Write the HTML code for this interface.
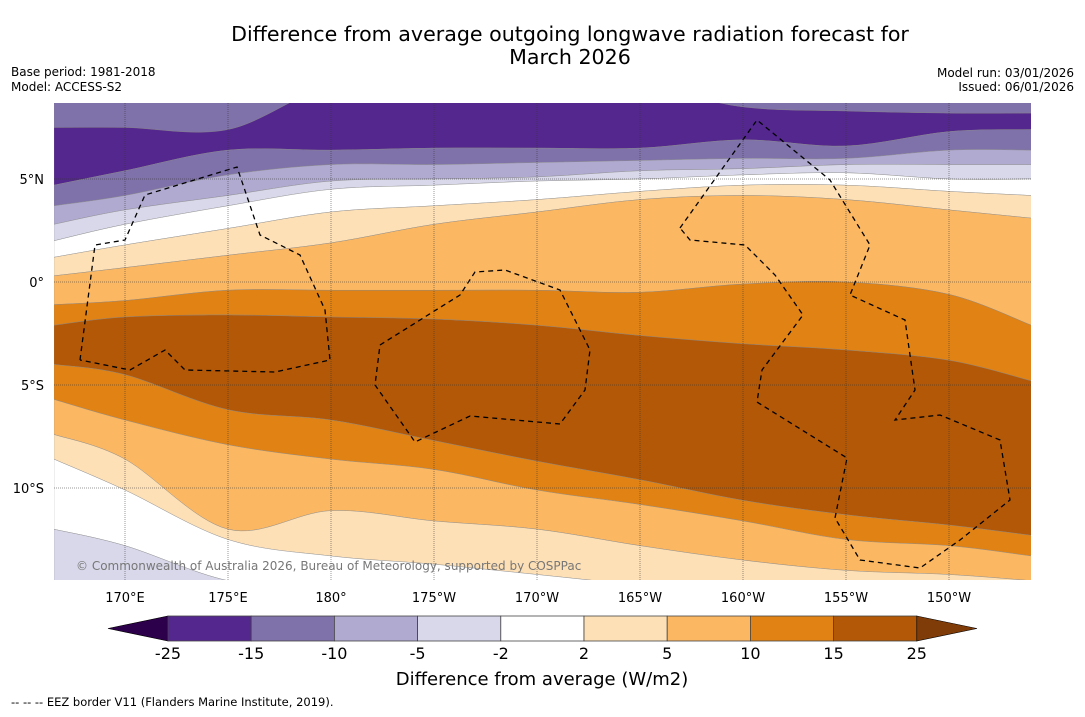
<!DOCTYPE html>
<html><head><meta charset="utf-8"><style>
body{margin:0;background:#fff;width:1085px;height:713px;overflow:hidden;font-family:"DejaVu Sans","Liberation Sans",sans-serif}
</style></head><body>
<svg id="chart" width="1085" height="713" xmlns="http://www.w3.org/2000/svg" font-family="DejaVu Sans, Liberation Sans, sans-serif">
<text x="570" y="41" font-size="20.6" text-anchor="middle">Difference from average outgoing longwave radiation forecast for</text>
<text x="570" y="64" font-size="20.6" text-anchor="middle">March 2026</text>
<text x="11" y="76" font-size="12">Base period: 1981-2018</text>
<text x="11" y="91" font-size="12">Model: ACCESS-S2</text>
<text x="1074" y="77" font-size="12" text-anchor="end">Model run: 03/01/2026</text>
<text x="1074" y="91" font-size="12" text-anchor="end">Issued: 06/01/2026</text>
<defs><clipPath id="mapclip"><rect x="54" y="103" width="977" height="477"/></clipPath></defs>
<g id="map" clip-path="url(#mapclip)"></g>
<g id="axes"></g>
<g id="cbar"></g>
<text x="542" y="685" font-size="18" text-anchor="middle">Difference from average (W/m2)</text>
<text x="11" y="706" font-size="11.5">--  --  -- EEZ border V11 (Flanders Marine Institute, 2019).</text>
</svg>
<script>
// longitudes (degrees east) at which contour boundaries are sampled
const lons = [166.55,170,175,180,185,190,195,200,205,210,214];
// contour boundary latitudes, north to south
const bZ = [7.5,7.5,7.4,9.5,9.5,9.5,9.5,8.5,8.3,8.2,8.2];
const bA = [4.7,5.4,6.4,6.4,6.5,6.5,6.5,6.9,6.6,7.3,7.4];
const bB = [3.7,4.2,5.2,5.7,5.7,5.8,5.9,6.0,6.0,6.4,6.4];
const bC = [2.8,3.5,4.2,4.9,5.0,5.1,5.4,5.5,5.7,5.7,5.7];
const bD = [2.0,2.8,3.7,4.5,4.7,4.9,5.0,5.2,5.3,5.0,5.0];
const bE = [1.2,1.8,2.6,3.4,3.7,4.0,4.4,4.7,4.7,4.4,4.2];
const bF = [0.3,0.7,1.3,1.9,2.8,3.4,4.0,4.2,4.0,3.5,3.1];
const bG = [-1.1,-0.9,-0.4,-0.4,-0.4,-0.4,-0.5,-0.1,0,-0.6,-2.1];
const bH = [-2.1,-1.7,-1.6,-1.7,-1.8,-2.1,-2.6,-3.0,-3.3,-3.8,-4.8];
const bI = [-4.0,-4.5,-6.2,-6.7,-7.7,-8.7,-9.6,-10.6,-11.3,-11.8,-12.3];
const bJ = [-5.7,-6.7,-7.9,-8.6,-9.1,-10.1,-10.8,-11.6,-12.5,-12.8,-13.3];
const bK = [-7.4,-8.6,-12.0,-11.1,-11.6,-12.0,-12.8,-13.5,-14.0,-14.2,-14.5];
const bL = [-8.6,-10.1,-12.5,-13.3,-13.7,-14.2,-14.7,-15,-15,-15,-15];
const bM = [-12.0,-12.8,-14.5,-15,-15,-15,-15,-15,-15,-15,-15];
const bTop = lons.map(()=>9.6), bBot = lons.map(()=>-15.5);
const levels = ['-25','-15','-10','-5','-2','2','5','10','15','25'];
const xTickLons = [170,175,180,185,190,195,200,205,210];
const xTickLabels = ['170°E','175°E','180°','175°W','170°W','165°W','160°W','155°W','150°W'];
const yTickLats = [5,0,-5,-10];
const yTickLabels = ['5°N','0°','5°S','10°S'];

const NS='http://www.w3.org/2000/svg';
const X = lon => 125 + (lon-170)*20.6;
const Y = lat => 282 - lat*20.6;
function mk(tag, attrs, parent){const e=document.createElementNS(NS,tag);for(const k in attrs)e.setAttribute(k,attrs[k]);parent.appendChild(e);return e;}
function smooth(pts){ // catmull-rom segments, excluding initial move
  let d='';
  for(let i=0;i<pts.length-1;i++){
    const p0=pts[Math.max(0,i-1)],p1=pts[i],p2=pts[i+1],p3=pts[Math.min(pts.length-1,i+2)];
    const c1=[p1[0]+(p2[0]-p0[0])/6,p1[1]+(p2[1]-p0[1])/6];
    const c2=[p2[0]-(p3[0]-p1[0])/6,p2[1]-(p3[1]-p1[1])/6];
    d+=` C${c1[0]},${c1[1]} ${c2[0]},${c2[1]} ${p2[0]},${p2[1]}`;
  }
  return d;
}
const map=document.getElementById('map');
mk('rect',{x:54,y:103,width:977,height:477,fill:'#fff'},map);
const bands=[[bTop,bZ,'#7f71a9'],[bZ,bA,'#54278f'],[bA,bB,'#7f71a9'],[bB,bC,'#b0a9d0'],[bC,bD,'#d8d8ea'],[bD,bE,'#ffffff'],[bE,bF,'#fee0b6'],[bF,bG,'#fbb762'],[bG,bH,'#e08214'],[bH,bI,'#b35806'],[bI,bJ,'#e08214'],[bJ,bK,'#fbb762'],[bK,bL,'#fee0b6'],[bL,bM,'#ffffff'],[bM,bBot,'#d8d8ea']];
bands.forEach((b,i)=>{
  const top=lons.map((l,j)=>[X(l),Y(b[0][j])]);
  const bot=lons.map((l,j)=>[X(l),Y(b[1][j])]).reverse();
  const d=`M${top[0][0]},${top[0][1]}`+smooth(top)+` L${bot[0][0]},${bot[0][1]}`+smooth(bot)+' Z';
  const p=mk('path',{d:d,fill:b[2],stroke:'#888','stroke-width':0.4},map);
  
  
});
// EEZ dashed borders (approximate outlines)
const eez=[
 [[80,360],[95,245],[125,240],[145,195],[237,167],[260,235],[300,255],[325,310],[330,360],[275,372],[185,370],[165,350],[130,370],[80,360]],
 [[380,345],[460,295],[475,272],[505,270],[560,290],[590,350],[585,390],[560,424],[470,416],[415,442],[375,385],[380,345]],
 [[680,228],[757,120],[830,180],[870,245],[850,295],[905,320],[915,390],[895,420],[940,415],[1000,440],[1010,500],[960,540],[920,568],[860,560],[835,518],[847,458],[757,402],[762,370],[803,315],[775,275],[745,245],[690,240],[680,228]]
];
eez.forEach((pl,i)=>{
  const p=mk('polyline',{points:pl.map(q=>q.join(',')).join(' '),fill:'none',stroke:'#000','stroke-width':1.3,'stroke-dasharray':'5,4'},map);
  
  
});
const axes=document.getElementById('axes');
xTickLons.forEach((l,i)=>{
  const g=mk('line',{x1:X(l),x2:X(l),y1:103,y2:580,stroke:'#333','stroke-width':0.5,'stroke-dasharray':'1,1'},axes);
  
  
  const t=mk('text',{x:X(l),y:602,'font-size':13,'text-anchor':'middle'},axes);t.textContent=xTickLabels[i];
  
  
});
yTickLats.forEach((l,i)=>{
  const g=mk('line',{x1:54,x2:1031,y1:Y(l),y2:Y(l),stroke:'#333','stroke-width':0.5,'stroke-dasharray':'1,1'},axes);
  
  
  const t=mk('text',{x:44,y:Y(l)+5,'font-size':13,'text-anchor':'end'},axes);t.textContent=yTickLabels[i];
  
  
});
const cr=mk('text',{x:76,y:570,'font-size':12,fill:'#777'},axes);cr.textContent='© Commonwealth of Australia 2026, Bureau of Meteorology, supported by COSPPac';


const cb=document.getElementById('cbar');
const cols=['#54278f','#7f71a9','#b0a9d0','#d8d8ea','#ffffff','#fee0b6','#fbb762','#e08214','#b35806'];
const x0=168,w=83.2,y0=616,h=25;
const lt=mk('polygon',{points:`108,${y0+h/2} ${x0},${y0} ${x0},${y0+h}`,fill:'#2d004b',stroke:'#000','stroke-width':0.6},cb);


cols.forEach((c,i)=>{
  const r=mk('rect',{x:x0+i*w,y:y0,width:w,height:h,fill:c,stroke:'#444','stroke-width':0.8},cb);
  
  
});
const rt=mk('polygon',{points:`${x0+9*w},${y0} 977,${y0+h/2} ${x0+9*w},${y0+h}`,fill:'#7f3b08',stroke:'#000','stroke-width':0.6},cb);


levels.forEach((lv,i)=>{
  const t=mk('text',{x:x0+i*w,y:659,'font-size':16,'text-anchor':'middle'},cb);t.textContent=lv;
  
  
});
</script>
</body></html>
